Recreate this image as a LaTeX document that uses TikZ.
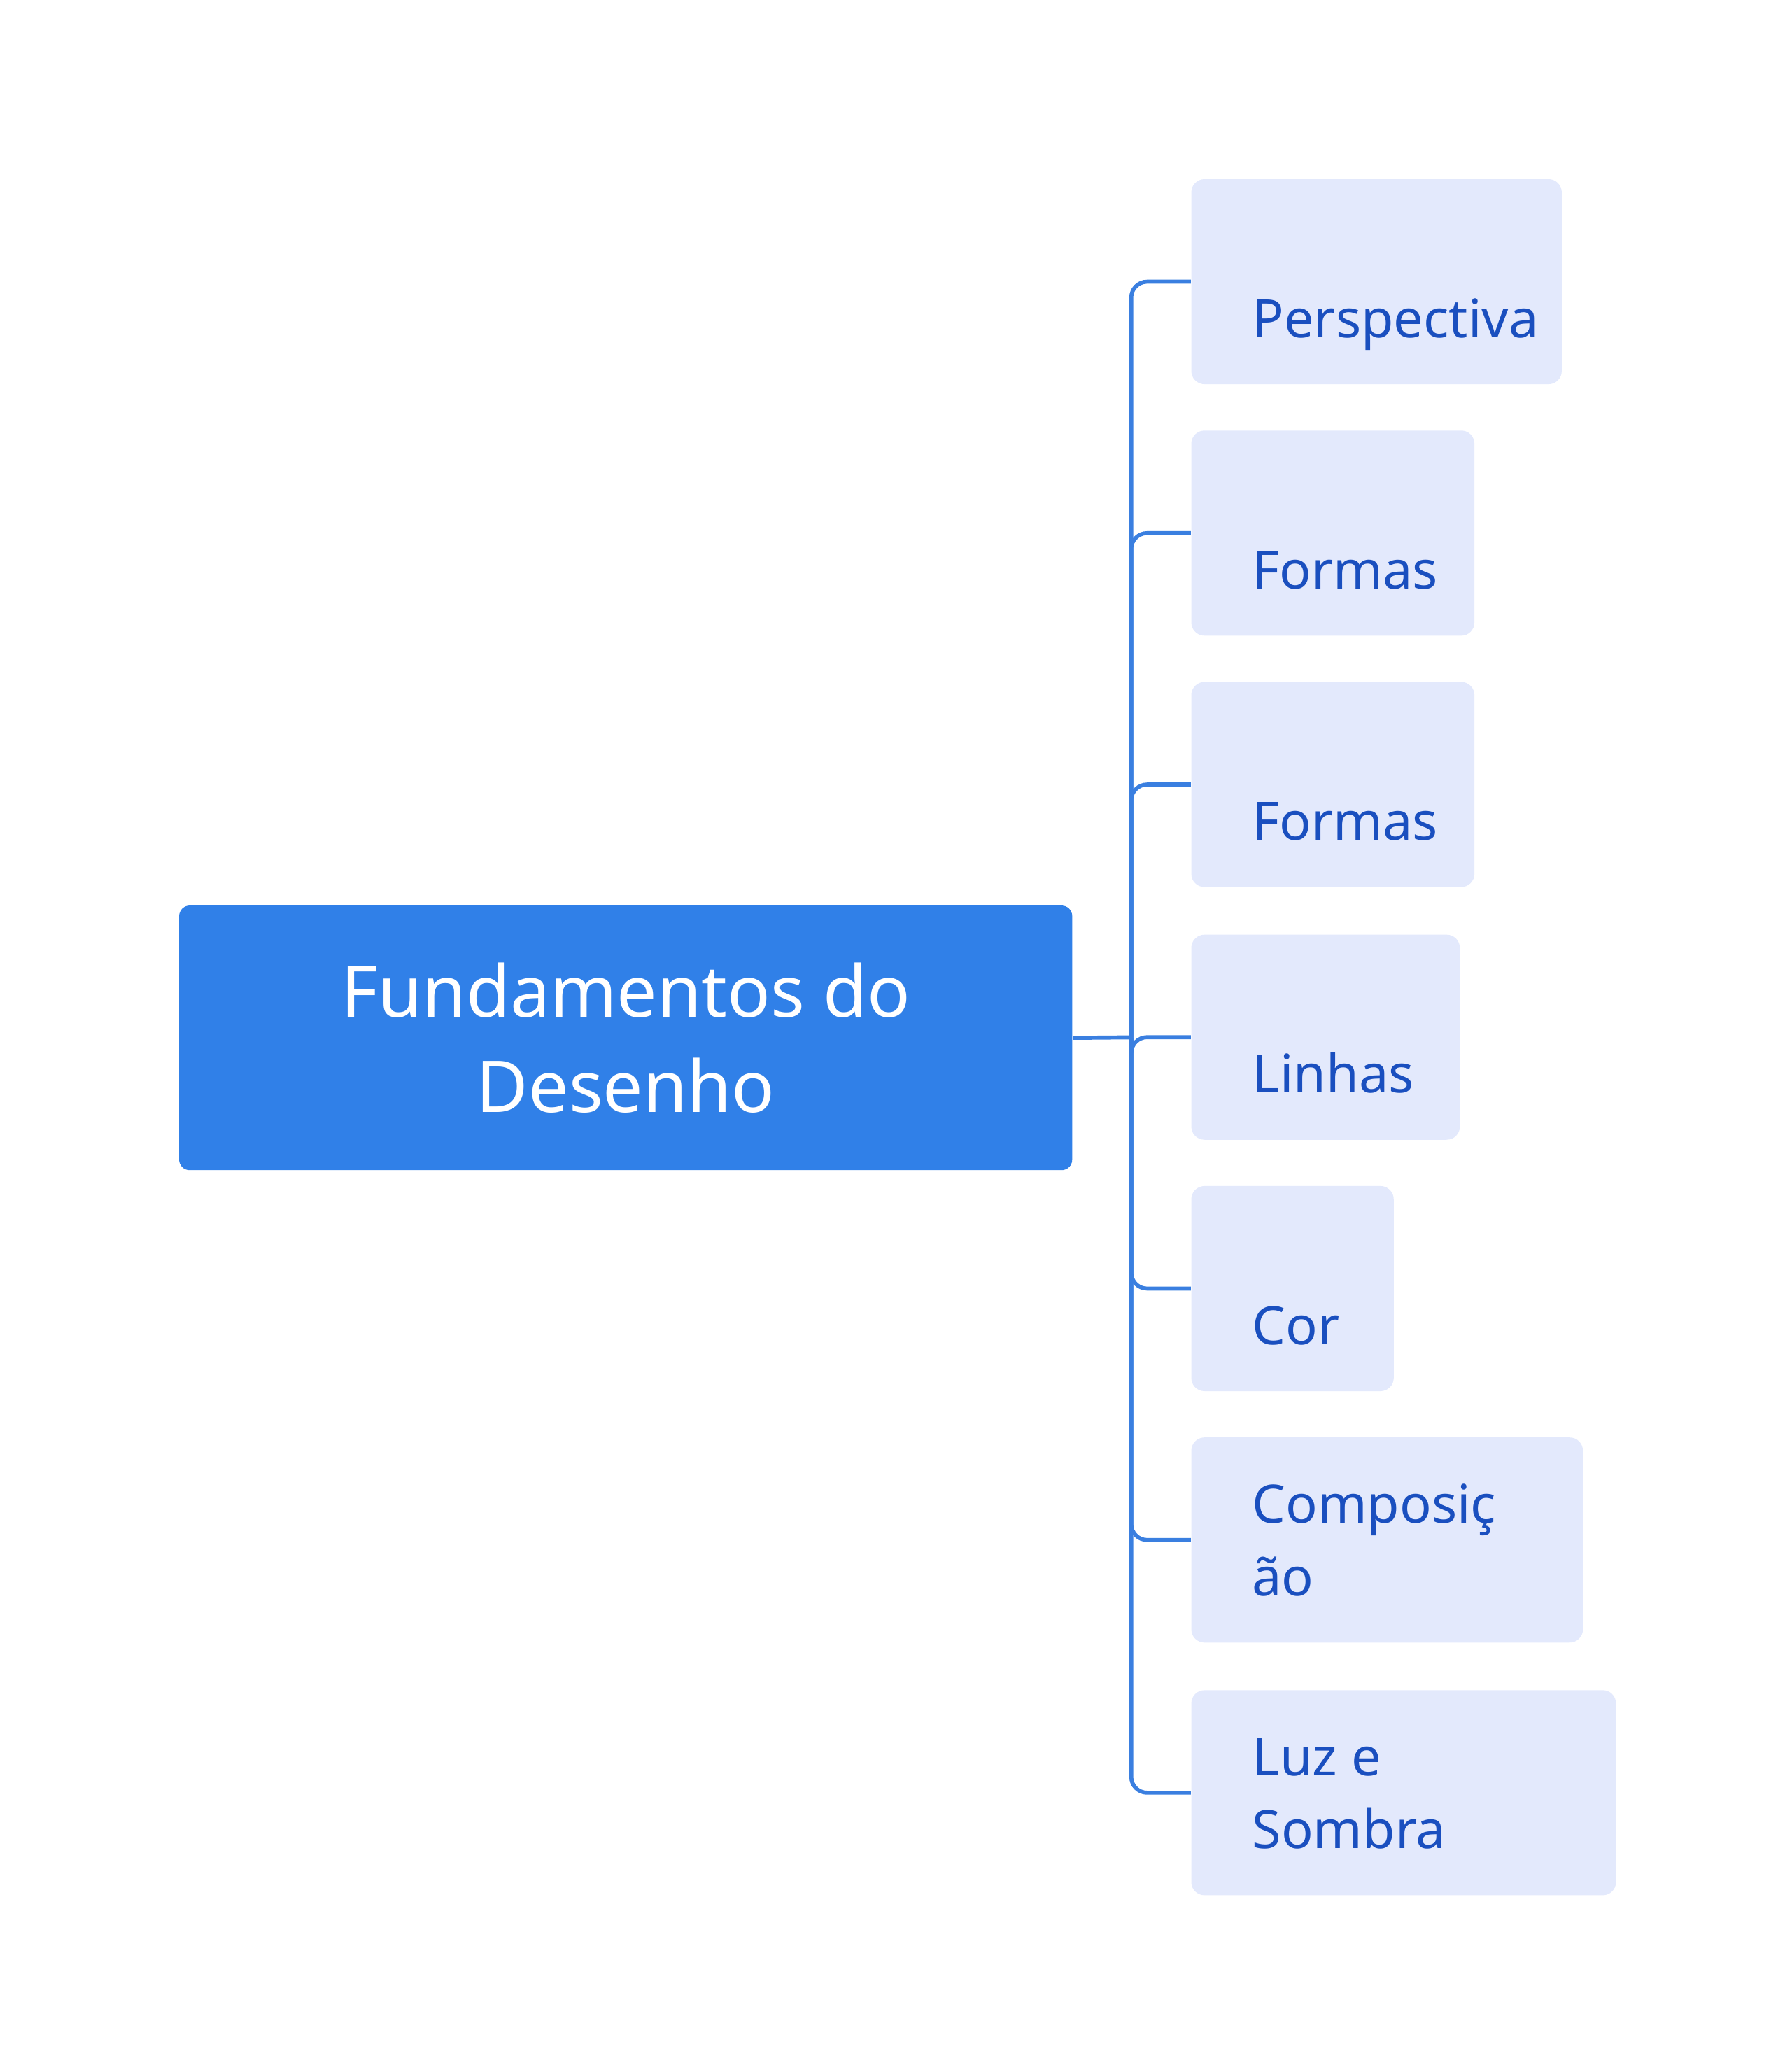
\documentclass[tikz,border=0pt]{standalone}
\usepackage{fontspec}
\setmainfont{Noto Sans}
\usetikzlibrary{positioning}
\definecolor{rootblue}{HTML}{3080E8}
\definecolor{leaffill}{HTML}{E3E9FC}
\definecolor{leaftext}{HTML}{1A4FBF}
\definecolor{linkblue}{HTML}{3A7FE0}
\tikzset{
  rootbox/.style={fill=rootblue, rounded corners=4pt, anchor=north west, inner sep=0pt},
  leafbox/.style={fill=leaffill, rounded corners=5pt, anchor=north west, inner sep=0pt, minimum height=77.5pt},
  leaflabel/.style={anchor=base west, inner sep=0pt, text=leaftext, font=\fontsize{20}{27.5}\selectfont, align=left},
  link/.style={draw=linkblue, line width=1.5pt, rounded corners=6pt}
}
\begin{document}
\begin{tikzpicture}[x=0.5pt, y=-0.5pt]
    \useasboundingbox (0,0) rectangle (1354,1566);
    \node[rootbox, minimum width=337.5pt, minimum height=100pt] (root) at (135,684) {};
    \node[text=white, font=\fontsize{27}{36}\selectfont, align=center] (rootlabel) at (root.center) {Fundamentos do\\Desenho};
    \coordinate (bus) at (855,784);
    \draw[link] (root.east) -- (bus);
    \foreach \name/\top/\right/\last/\txt in {
        c1/135/1180/255/Perspectiva,
        c2/325/1114/445/Formas,
        c3/515/1114/635/Formas,
        c4/706/1103/826/Linhas,
        c5/896/1053/1016/Cor,
        c6/1086/1196/1206/{Composiç\\ão},
        c7/1277/1221/1397/{Luz e\\Sombra}} {
      \node[leafbox, minimum width={(\right-900)*0.5pt}] (\name) at (900,\top) {};
      \node[leaflabel] (\name label) at (946,\last) {\txt};
      \draw[link] (bus) |- (\name.west);
    }
\end{tikzpicture}
\end{document}
